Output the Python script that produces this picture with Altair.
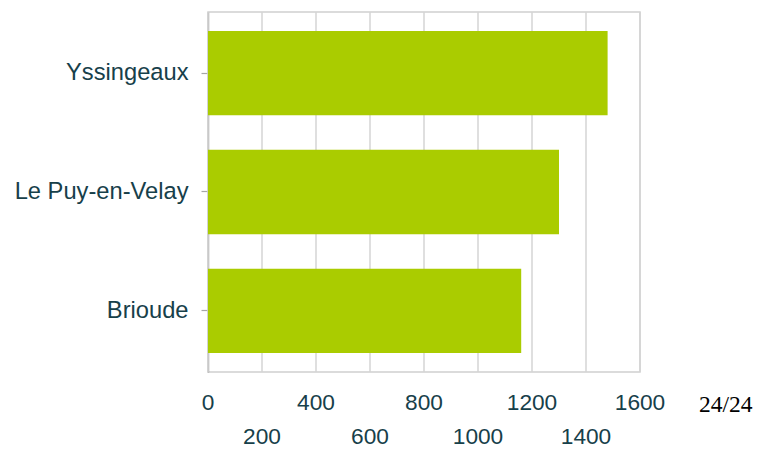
import altair as alt
import pandas as pd

# ---- data ----
communes = ["Yssingeaux", "Le Puy-en-Velay", "Brioude"]
valeurs = [1480, 1300, 1160]
tick_values = [0, 200, 400, 600, 800, 1000, 1200, 1400, 1600]
tick_labels = ["0", "200", "400", "600", "800", "1000", "1200", "1400", "1600"]
tick_rows = [0, 1, 0, 1, 0, 1, 0, 1, 0]
page_label = ["24/24"]

W, H = 432, 360
TEXT_COLOR = "#17404A"
FONT = "Liberation Sans"

df = pd.DataFrame({"commune": communes, "valeur": valeurs})
ticks = pd.DataFrame({"v": tick_values, "label": tick_labels, "row": tick_rows})
page = pd.DataFrame({"t": page_label})

xscale = alt.Scale(domain=[0, 1600], nice=False, zero=True)

grid = alt.Chart(ticks).mark_rule(color="#D4D4D4", strokeWidth=1.5).encode(
    x=alt.X("v:Q", scale=xscale, axis=None),
)

bars = alt.Chart(df).mark_bar(color="#AACC00").encode(
    x=alt.X(
        "valeur:Q",
        scale=xscale,
        axis=alt.Axis(
            values=tick_values, labels=False, ticks=False, title=None,
            grid=False, domainColor="#A6A6A6", domainWidth=1.5,
        ),
    ),
    y=alt.Y(
        "commune:N",
        sort=communes,
        scale=alt.Scale(paddingInner=0.29, paddingOuter=0.16),
        axis=alt.Axis(
            title=None, labelFont=FONT, labelFontSize=23.7, labelColor=TEXT_COLOR,
            labelPadding=13, tickSize=7, tickColor="#A6A6A6", tickWidth=1.2,
            domainColor="#A6A6A6", domainWidth=1.5, labelLimit=400, grid=False,
        ),
    ),
)

row0 = alt.Chart(ticks).transform_filter("datum.row == 0").mark_text(
    font=FONT, fontSize=22.7, color=TEXT_COLOR, align="center", baseline="alphabetic"
).encode(
    x=alt.X("v:Q", scale=xscale, axis=None),
    y=alt.value(H + 37.5),
    text="label:N",
)

row1 = alt.Chart(ticks).transform_filter("datum.row == 1").mark_text(
    font=FONT, fontSize=22.7, color=TEXT_COLOR, align="center", baseline="alphabetic"
).encode(
    x=alt.X("v:Q", scale=xscale, axis=None),
    y=alt.value(H + 72),
    text="label:N",
)

page_text = alt.Chart(page).mark_text(
    font="Liberation Serif, Times New Roman, serif", fontSize=23.5, color="black",
    align="right", baseline="alphabetic"
).encode(
    x=alt.value(W + 112.5),
    y=alt.value(H + 40),
    text="t:N",
)

chart = alt.layer(grid, bars, row0, row1, page_text).properties(
    width=W,
    height=H,
    autosize=alt.AutoSizeParams(type="none"),
    padding={"left": 200, "top": 4, "right": 113, "bottom": 78},
).configure_view(stroke="#D0D0D0", strokeWidth=1.5)

chart.save("out.html", embed_options={"renderer": "svg", "actions": False})
